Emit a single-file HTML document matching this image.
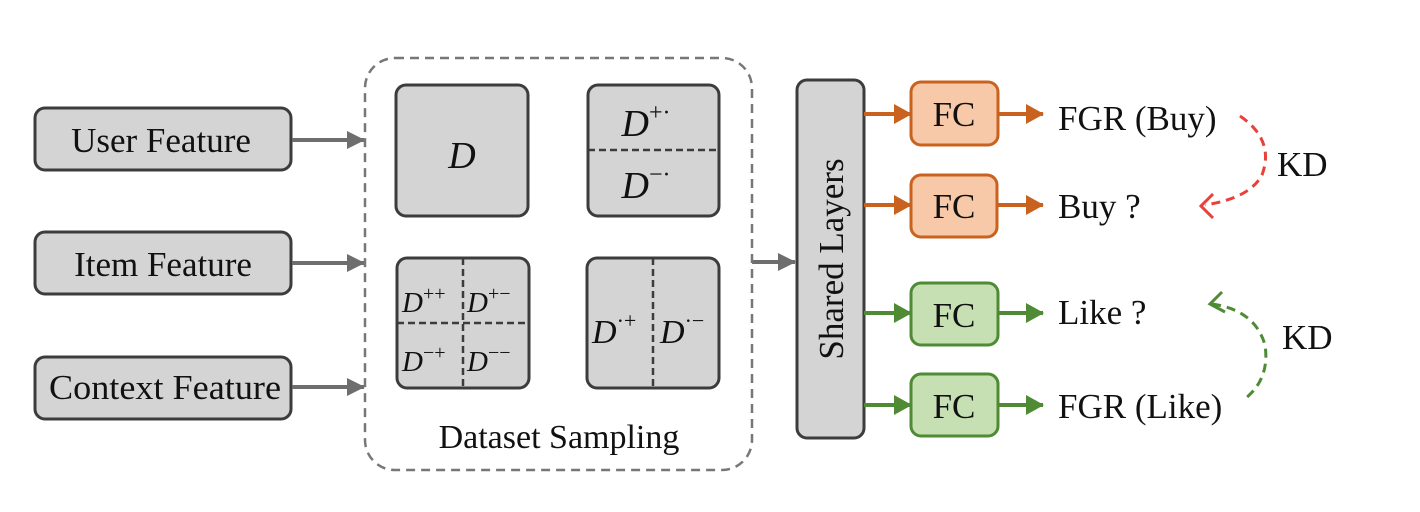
<!DOCTYPE html>
<html><head><meta charset="utf-8"><style>
html,body{margin:0;padding:0;background:#fff;}
svg{display:block;font-family:"Liberation Serif",serif;}
</style></head><body>
<svg width="1420" height="512" viewBox="0 0 1420 512" xmlns="http://www.w3.org/2000/svg">
<defs>
<marker id="ag" markerWidth="18" markerHeight="18" refX="17" refY="9" orient="auto" markerUnits="userSpaceOnUse"><path d="M0,0 L18,9 L0,18Z" fill="#6e6e6e"/></marker>
<marker id="ao" markerWidth="18" markerHeight="20" refX="17" refY="10" orient="auto" markerUnits="userSpaceOnUse"><path d="M0,0 L18,10 L0,20Z" fill="#c8621e"/></marker>
<marker id="agr" markerWidth="18" markerHeight="20" refX="17" refY="10" orient="auto" markerUnits="userSpaceOnUse"><path d="M0,0 L18,10 L0,20Z" fill="#4f8a35"/></marker>
</defs>
<g fill="#d4d4d4" stroke="#3c3c3c" stroke-width="3">
<rect x="35" y="108" width="256" height="62" rx="10"/>
<rect x="35" y="232" width="256" height="62" rx="10"/>
<rect x="35" y="357" width="256" height="62" rx="10"/>
</g>
<g font-size="35" fill="#111" text-anchor="middle">
<text x="161" y="152">User Feature</text>
<text x="163" y="276">Item Feature</text>
<text x="165" y="399" textLength="232" lengthAdjust="spacingAndGlyphs">Context Feature</text>
</g>
<g stroke="#6e6e6e" stroke-width="4" fill="none">
<line x1="292" y1="140" x2="364" y2="140" marker-end="url(#ag)"/>
<line x1="292" y1="263" x2="364" y2="263" marker-end="url(#ag)"/>
<line x1="292" y1="387" x2="364" y2="387" marker-end="url(#ag)"/>
<line x1="752" y1="262" x2="795" y2="262" marker-end="url(#ag)"/>
</g>
<rect x="365" y="58" width="387" height="412" rx="30" fill="none" stroke="#777" stroke-width="2.5" stroke-dasharray="9,6"/>
<g fill="#d4d4d4" stroke="#3c3c3c" stroke-width="3">
<rect x="396" y="85" width="132" height="131" rx="10"/>
<rect x="588" y="85" width="131" height="131" rx="10"/>
<rect x="397" y="258" width="132" height="130" rx="10"/>
<rect x="587" y="258" width="132" height="130" rx="10"/>
</g>
<g stroke="#3c3c3c" stroke-width="2.5" stroke-dasharray="7,4">
<line x1="588" y1="150" x2="719" y2="150"/>
<line x1="397" y1="323" x2="529" y2="323"/>
<line x1="463" y1="258" x2="463" y2="388"/>
<line x1="653" y1="258" x2="653" y2="388"/>
</g>
<g font-size="38" font-style="italic" fill="#111">
<text x="462" y="168" text-anchor="middle">D</text>
<text x="646" y="136" text-anchor="middle">D<tspan font-size="24" dy="-16" font-style="normal">+·</tspan></text>
<text x="646" y="198" text-anchor="middle">D<tspan font-size="24" dy="-16" font-style="normal">−·</tspan></text>
<text x="402" y="312" font-size="29">D<tspan font-size="20" dy="-12" font-style="normal">++</tspan></text>
<text x="467" y="312" font-size="29">D<tspan font-size="20" dy="-12" font-style="normal">+−</tspan></text>
<text x="402" y="371" font-size="29">D<tspan font-size="20" dy="-12" font-style="normal">−+</tspan></text>
<text x="467" y="371" font-size="29">D<tspan font-size="20" dy="-12" font-style="normal">−−</tspan></text>
<text x="592" y="343" font-size="34">D<tspan font-size="22" dy="-15" font-style="normal">·+</tspan></text>
<text x="660" y="343" font-size="34">D<tspan font-size="22" dy="-15" font-style="normal">·−</tspan></text>
</g>
<text x="559" y="448" font-size="34" fill="#111" text-anchor="middle">Dataset Sampling</text>
<rect x="797" y="80" width="67" height="358" rx="10" fill="#d4d4d4" stroke="#3c3c3c" stroke-width="3"/>
<text transform="translate(843,259) rotate(-90)" font-size="35" fill="#111" text-anchor="middle">Shared Layers</text>
<g stroke-width="4" fill="none">
<line x1="864" y1="114" x2="911" y2="114" stroke="#c8621e" marker-end="url(#ao)"/>
<line x1="998" y1="114" x2="1043" y2="114" stroke="#c8621e" marker-end="url(#ao)"/>
<line x1="864" y1="205" x2="911" y2="205" stroke="#c8621e" marker-end="url(#ao)"/>
<line x1="997" y1="205" x2="1043" y2="205" stroke="#c8621e" marker-end="url(#ao)"/>
<line x1="864" y1="313" x2="911" y2="313" stroke="#4f8a35" marker-end="url(#agr)"/>
<line x1="998" y1="313" x2="1043" y2="313" stroke="#4f8a35" marker-end="url(#agr)"/>
<line x1="864" y1="405" x2="911" y2="405" stroke="#4f8a35" marker-end="url(#agr)"/>
<line x1="998" y1="405" x2="1043" y2="405" stroke="#4f8a35" marker-end="url(#agr)"/>
</g>
<g stroke-width="3">
<rect x="911" y="82" width="87" height="63" rx="10" fill="#f7c9a8" stroke="#c8621e"/>
<rect x="911" y="175" width="86" height="62" rx="10" fill="#f7c9a8" stroke="#c8621e"/>
<rect x="911" y="283" width="87" height="62" rx="10" fill="#c6e0b4" stroke="#4f8a35"/>
<rect x="911" y="374" width="87" height="62" rx="10" fill="#c6e0b4" stroke="#4f8a35"/>
</g>
<g font-size="35" fill="#111" text-anchor="middle">
<text x="954" y="126">FC</text>
<text x="954" y="218">FC</text>
<text x="954" y="327">FC</text>
<text x="954" y="418">FC</text>
</g>
<g font-size="35" fill="#111">
<text x="1058" y="130">FGR (Buy)</text>
<text x="1058" y="218">Buy ?</text>
<text x="1058" y="324">Like ?</text>
<text x="1058" y="418">FGR (Like)</text>
<text x="1277" y="176">KD</text>
<text x="1282" y="349">KD</text>
</g>
<path d="M1240,116 Q1275,140 1262,175 Q1250,198 1205,205" fill="none" stroke="#e8413a" stroke-width="3" stroke-dasharray="9,6"/>
<path d="M1213,194 L1201,206 L1213,218" fill="none" stroke="#e8413a" stroke-width="3"/>
<path d="M1212,304 Q1255,310 1265,345 Q1270,378 1246,398" fill="none" stroke="#4f8a35" stroke-width="3" stroke-dasharray="9,6"/>
<path d="M1222,292 L1210,304 L1225,312" fill="none" stroke="#4f8a35" stroke-width="3"/>
</svg>
</body></html>
